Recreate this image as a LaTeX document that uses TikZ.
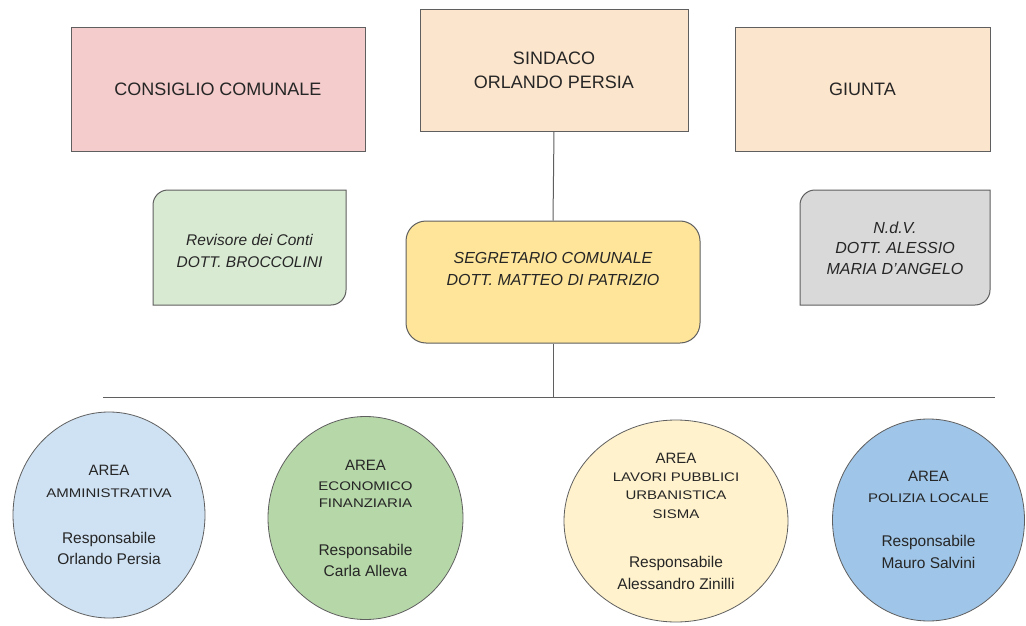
\documentclass[tikz,border=0pt]{standalone}
\usepackage{fontspec}
\setmainfont{Liberation Sans}
\newfontfamily\widesans[FakeStretch=1.2]{Liberation Sans}
\usetikzlibrary{shapes.geometric}
\definecolor{edge}{HTML}{5F5F5F}
\definecolor{txt}{HTML}{262626}
\definecolor{cpink}{HTML}{F4CCCC}
\definecolor{cpeach}{HTML}{FCE5CD}
\definecolor{cgreenl}{HTML}{D9EAD3}
\definecolor{cyellow}{HTML}{FFE599}
\definecolor{cgray}{HTML}{D9D9D9}
\definecolor{cblue1}{HTML}{CFE2F3}
\definecolor{cgreen}{HTML}{B6D7A8}
\definecolor{cyell2}{HTML}{FFF2CC}
\definecolor{cblue2}{HTML}{9FC5E8}
\newcommand{\subt}[1]{{\widesans\fontsize{12.5}{21}\selectfont #1}}
\newcommand{\areaw}{{\fontsize{15}{21}\selectfont AREA}}
\begin{document}
\begin{tikzpicture}[x=1pt,y=-1pt,
  topbox/.style={draw=edge, line width=1pt, inner sep=0pt, text=txt, align=center,
    font=\fontsize{18}{24}\selectfont},
  itxt/.style={inner sep=0pt, text=txt, align=center, font=\itshape\fontsize{15.5}{22}\selectfont},
  area/.style={ellipse, draw=edge, line width=0.8pt, inner sep=0pt, text=txt, align=center,
    font=\fontsize{15.5}{21}\selectfont},
  conn/.style={draw=edge, line width=1pt}]
\useasboundingbox (0,0) rectangle (1026,626);
\fill[white] (0,0) rectangle (1026,626);

% top row
\node[topbox, fill=cpink, minimum width=294, minimum height=123] (cons) at (218,89.5) {CONSIGLIO COMUNALE};
\node[topbox, fill=cpeach, minimum width=268, minimum height=121] (sind) at (554,70.5) {SINDACO\\ORLANDO PERSIA};
\node[topbox, fill=cpeach, minimum width=255, minimum height=123] (giun) at (862.5,89.5) {GIUNTA};

% middle row
\filldraw[fill=cgreenl, draw=edge, line width=1pt]
  (153,305) -- (153,205) arc[start angle=180, end angle=270, radius=15]
  -- (346,190) -- (346,290) arc[start angle=0, end angle=90, radius=15] -- cycle;
\node[itxt] (rev) at (249.5,251) {Revisore dei Conti\\DOTT. BROCCOLINI};

\node[draw=edge, line width=1pt, fill=cyellow, rounded corners=20, minimum width=294, minimum height=122, inner sep=0pt] (seg) at (553,282) {};
\node[itxt, font=\itshape\fontsize{16}{22}\selectfont] (segtxt) at ([yshift=13pt]seg.center) {SEGRETARIO COMUNALE\\DOTT. MATTEO DI PATRIZIO};

\filldraw[fill=cgray, draw=edge, line width=1pt]
  (800,305) -- (800,205) arc[start angle=180, end angle=270, radius=15]
  -- (990,190) -- (990,290) arc[start angle=0, end angle=90, radius=15] -- cycle;
\node[itxt, font=\itshape\fontsize{16}{20.5}\selectfont] (ndv) at (895,248) {N.d.V.\\DOTT. ALESSIO\\MARIA D'ANGELO};

% connectors
\coordinate (busL) at (103,397);
\coordinate (busR) at (995,397);
\coordinate (busM) at (553,397);
\draw[conn] (sind.south) -- (seg.north);
\draw[conn] (seg.south) -- (busM);
\draw[conn] (busL) -- (busR);

% areas
\node[area, fill=cblue1, minimum width=192, minimum height=206] (a1) at (109,515)
  {\areaw\\[1pt]\subt{AMMINISTRATIVA}\\[25pt]Responsabile\\Orlando Persia};
\node[area, fill=cgreen, minimum width=195, minimum height=203] (a2) at (365.5,518)
  {\areaw\\[-0.5pt]\subt{ECONOMICO}\\[-4pt]\subt{FINANZIARIA}\\[26.5pt]Responsabile\\Carla Alleva};
\node[area, fill=cyell2, minimum width=224, minimum height=202] (a3) at (676,521)
  {\areaw\\[-2.5pt]\subt{LAVORI PUBBLICI}\\[-3pt]\subt{URBANISTICA}\\[-2pt]\subt{SISMA}\\[27.5pt]Responsabile\\[1pt]Alessandro Zinilli};
\node[area, fill=cblue2, minimum width=192, minimum height=202] (a4) at (928.5,520)
  {\areaw\\[-0.5pt]\subt{POLIZIA LOCALE}\\[23.5pt]Responsabile\\[1pt]Mauro Salvini};
\end{tikzpicture}
\end{document}
